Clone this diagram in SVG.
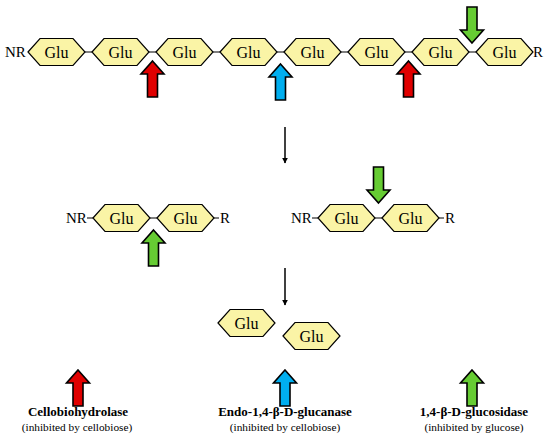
<svg xmlns="http://www.w3.org/2000/svg" xmlns:xlink="http://www.w3.org/1999/xlink" width="550" height="437" viewBox="0 0 550 437">
<style>
.hex{fill:#FAF4A6;stroke:#000;stroke-width:1.2}
text{font-family:"Liberation Serif","Times New Roman","DejaVu Serif",serif;fill:#000}
.lbl{font-size:16px;text-anchor:middle}
.end{font-size:15px}
.ln{stroke:#000;stroke-width:1.2;fill:none}
.arr{stroke:#000;stroke-width:1.6;stroke-linejoin:miter}
.red{fill:#E00000}.blue{fill:#00AEEF}.green{fill:#66CC33}
.t1{font-size:13px;font-weight:bold;text-anchor:middle}
.t2{font-size:11.3px;text-anchor:middle}
</style>
<defs>
<polygon id="hex" points="0,0 12,-13.5 45,-13.5 57,0 45,13.5 12,13.5"/>
<polygon id="up" points="0,0 11.5,13 5,13 5,36 -5,36 -5,13 -11.5,13"/>
<polygon id="down" points="0,0 11.5,-13 5,-13 5,-36 -5,-36 -5,-13 -11.5,-13"/>
<marker id="ah" viewBox="0 0 10 10" refX="9" refY="5" markerWidth="6" markerHeight="7" orient="auto" markerUnits="userSpaceOnUse"><path d="M0,0 L10,5 L0,10 z" fill="#000"/></marker>
</defs>
<g id="connectors">
<path class="ln" d="M85,52H92M149,52H156M213,52H220M277,52H284M341,52H348M405,52H412M469,52H476"/>
<path class="ln" d="M87,218H93M150,218H157M213,218H219"/>
<path class="ln" d="M312,218H318M375,218H382M438,218H444"/>
<line x1="285" y1="127" x2="285" y2="163" stroke="#000" stroke-width="1.5" marker-end="url(#ah)"/>
<line x1="285" y1="268" x2="285" y2="305" stroke="#000" stroke-width="1.5" marker-end="url(#ah)"/>
</g>
<g id="chain1">
<text class="end" x="5" y="57">NR</text>
<text class="end" x="533" y="57">R</text>
<g id="g1"><use xlink:href="#hex" class="hex" x="28" y="52"/><text class="lbl" x="56.5" y="57.5">Glu</text></g>
<g id="g2"><use xlink:href="#hex" class="hex" x="92" y="52"/><text class="lbl" x="120.5" y="57.5">Glu</text></g>
<g id="g3"><use xlink:href="#hex" class="hex" x="156" y="52"/><text class="lbl" x="184.5" y="57.5">Glu</text></g>
<g id="g4"><use xlink:href="#hex" class="hex" x="220" y="52"/><text class="lbl" x="248.5" y="57.5">Glu</text></g>
<g id="g5"><use xlink:href="#hex" class="hex" x="284" y="52"/><text class="lbl" x="312.5" y="57.5">Glu</text></g>
<g id="g6"><use xlink:href="#hex" class="hex" x="348" y="52"/><text class="lbl" x="376.5" y="57.5">Glu</text></g>
<g id="g7"><use xlink:href="#hex" class="hex" x="412" y="52"/><text class="lbl" x="440.5" y="57.5">Glu</text></g>
<g id="g8"><use xlink:href="#hex" class="hex" x="476" y="52"/><text class="lbl" x="504.5" y="57.5">Glu</text></g>
</g>
<g id="arrows1">
<use xlink:href="#up" class="arr red" x="152.5" y="61"/>
<use xlink:href="#up" class="arr blue" x="280.5" y="64"/>
<use xlink:href="#up" class="arr red" x="408.5" y="61"/>
<use xlink:href="#down" class="arr green" x="472" y="43"/>
</g>
<g id="chain2">
<text class="end" x="66" y="223">NR</text>
<text class="end" x="220" y="223">R</text>
<g id="m1"><use xlink:href="#hex" class="hex" x="93" y="218"/><text class="lbl" x="121.5" y="223.5">Glu</text></g>
<g id="m2"><use xlink:href="#hex" class="hex" x="157" y="218"/><text class="lbl" x="185.5" y="223.5">Glu</text></g>
<use xlink:href="#up" class="arr green" x="153.5" y="230"/>
</g>
<g id="chain3">
<text class="end" x="291" y="223">NR</text>
<text class="end" x="445" y="223">R</text>
<g id="n1"><use xlink:href="#hex" class="hex" x="318" y="218"/><text class="lbl" x="346.5" y="223.5">Glu</text></g>
<g id="n2"><use xlink:href="#hex" class="hex" x="382" y="218"/><text class="lbl" x="410.5" y="223.5">Glu</text></g>
<use xlink:href="#down" class="arr green" x="378.5" y="203"/>
</g>
<g id="products">
<g id="p1"><use xlink:href="#hex" class="hex" x="218" y="323"/><text class="lbl" x="246.5" y="328.5">Glu</text></g>
<g id="p2"><use xlink:href="#hex" class="hex" x="283" y="336"/><text class="lbl" x="311.5" y="341.5">Glu</text></g>
</g>
<g id="legend">
<g id="leg1"><use xlink:href="#up" class="arr red" x="78" y="370"/>
<text class="t1" x="78" y="416">Cellobiohydrolase</text>
<text class="t2" x="77" y="431">(inhibited by cellobiose)</text></g>
<g id="leg2"><use xlink:href="#up" class="arr blue" x="285" y="370"/>
<text class="t1" x="285" y="416">Endo-1,4-β-D-glucanase</text>
<text class="t2" x="285" y="431">(inhibited by cellobiose)</text></g>
<g id="leg3"><use xlink:href="#up" class="arr green" x="472" y="370"/>
<text class="t1" x="474" y="416">1,4-β-D-glucosidase</text>
<text class="t2" x="474" y="431">(inhibited by glucose)</text></g>
</g>
</svg>
